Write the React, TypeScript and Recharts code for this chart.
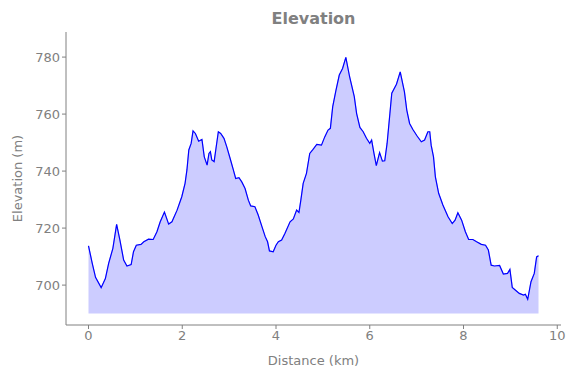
import { Area, ComposedChart, Line, XAxis, YAxis } from "recharts";

// distance along the route (km) and elevation (m)
const DIST = [
  0, 0.08, 0.15, 0.27, 0.36, 0.43, 0.52, 0.6, 0.67, 0.75, 0.82, 0.91, 0.96, 1.02, 1.12, 1.18,
  1.28, 1.38, 1.46, 1.53, 1.62, 1.71, 1.78, 1.89, 1.99, 2.06, 2.1, 2.14, 2.19, 2.23, 2.28, 2.35,
  2.42, 2.47, 2.53, 2.57, 2.6, 2.63, 2.68, 2.72, 2.77, 2.82, 2.89, 2.95, 3.02, 3.09, 3.14, 3.21,
  3.27, 3.34, 3.41, 3.46, 3.55, 3.62, 3.7, 3.77, 3.82, 3.86, 3.94, 4.0, 4.05, 4.12, 4.19, 4.3,
  4.37, 4.44, 4.49, 4.53, 4.58, 4.65, 4.72, 4.79, 4.87, 4.97, 5.04, 5.11, 5.16, 5.21, 5.28, 5.35,
  5.42, 5.49, 5.57, 5.67, 5.72, 5.79, 5.86, 5.93, 6.0, 6.04, 6.09, 6.14, 6.21, 6.27, 6.32, 6.37,
  6.43, 6.47, 6.57, 6.65, 6.74, 6.79, 6.85, 6.92, 7.01, 7.1, 7.17, 7.24, 7.28, 7.31, 7.36, 7.4,
  7.47, 7.56, 7.67, 7.76, 7.82, 7.88, 7.96, 8.04, 8.11, 8.2, 8.28, 8.38, 8.47, 8.53, 8.59, 8.66,
  8.77, 8.85, 8.94, 8.99, 9.04, 9.11, 9.19, 9.28, 9.32, 9.37, 9.44, 9.51, 9.56, 9.6,
];
const ELEV = [
  713.8, 707.6, 702.7, 699.1, 702.3, 707.6, 712.9, 721.3, 715.8, 708.8, 706.7, 707.2, 711.7, 714, 714.3, 715.2,
  716.1, 716, 718.7, 722.2, 725.6, 721.4, 722.2, 726.3, 731, 735.7, 740.4, 747.4, 749.7, 754.1, 753.2, 750.5,
  751.1, 745, 742.1, 746.2, 746.8, 743.9, 743.3, 748, 753.8, 753.2, 751.5, 748.5, 744.5, 740.4, 737.4, 737.7,
  736.2, 733.9, 729.8, 727.8, 727.5, 724.6, 720.5, 717, 715.2, 712, 711.7, 714, 715.2, 715.8, 718.1, 722.2,
  723.2, 726.3, 725.5, 729.8, 735.7, 739.2, 746.2, 747.6, 749.4, 749.1, 752, 754.4, 755, 762.6, 768.4, 773.7,
  776, 779.9, 773.1, 766.1, 760.2, 755.3, 753.8, 751.5, 749.7, 750.9, 746.2, 741.9, 746.5, 743.5, 743.6, 749.7,
  760.2, 767.3, 770.5, 774.8, 767.8, 761.4, 756.7, 754.6, 752.3, 750.3, 750.9, 753.8, 753.8, 749.1, 745, 738,
  732.2, 728.1, 724, 721.6, 722.8, 725.4, 722.8, 718.7, 716, 716, 715.2, 714.3, 714, 712.3, 707, 706.7,
  706.9, 703.9, 704.1, 705.5, 699.2, 698.2, 697.1, 696.5, 696.8, 695, 701.2, 704.1, 709.9, 710.3,
];
const X_TICKS = [0, 2, 4, 6, 8, 10];
const Y_TICKS = [700, 720, 740, 760, 780];
const BASE = 690;

const data = DIST.map((d, i) => ({ d, elev: ELEV[i] }));

const FONT = "'DejaVu Sans', sans-serif";
const GREY = "#808080";
const tickStyle = { fill: GREY, fontSize: 13, fontFamily: FONT };

export default function App() {
  return (
    <div style={{ position: "absolute", left: 0, top: 0, width: 577, height: 378, background: "#fff" }}>
      <div
        style={{
          position: "absolute",
          top: 8,
          left: 66,
          width: 495,
          textAlign: "center",
          fontFamily: FONT,
          fontWeight: "bold",
          fontSize: 16,
          lineHeight: "22px",
          color: GREY,
        }}
      >
        Elevation
      </div>
      <ComposedChart width={577} height={378} data={data} margin={{ top: 32, right: 16, bottom: 13, left: 0 }}>
        <XAxis
          dataKey="d"
          type="number"
          domain={[-0.48, 10.08]}
          ticks={X_TICKS}
          allowDataOverflow
          stroke={GREY}
          tickSize={4}
          tick={tickStyle}
          height={40}
          label={{ value: "Distance (km)", position: "insideBottom", offset: 0, style: tickStyle }}
        />
        <YAxis
          type="number"
          domain={[686, 788.8]}
          ticks={Y_TICKS}
          allowDataOverflow
          stroke={GREY}
          tickSize={4}
          tick={tickStyle}
          width={66}
          label={{
            value: "Elevation (m)",
            angle: -90,
            position: "insideLeft",
            offset: 17,
            style: { ...tickStyle, textAnchor: "middle" },
          }}
        />
        <Area
          dataKey="elev"
          type="linear"
          baseValue={BASE}
          fill="#ccccff"
          fillOpacity={1}
          stroke="#b3b3ff"
          strokeWidth={1}
          isAnimationActive={false}
        />
        <Line
          dataKey="elev"
          type="linear"
          stroke="#0000ff"
          strokeWidth={1.2}
          dot={false}
          isAnimationActive={false}
        />
      </ComposedChart>
    </div>
  );
}
